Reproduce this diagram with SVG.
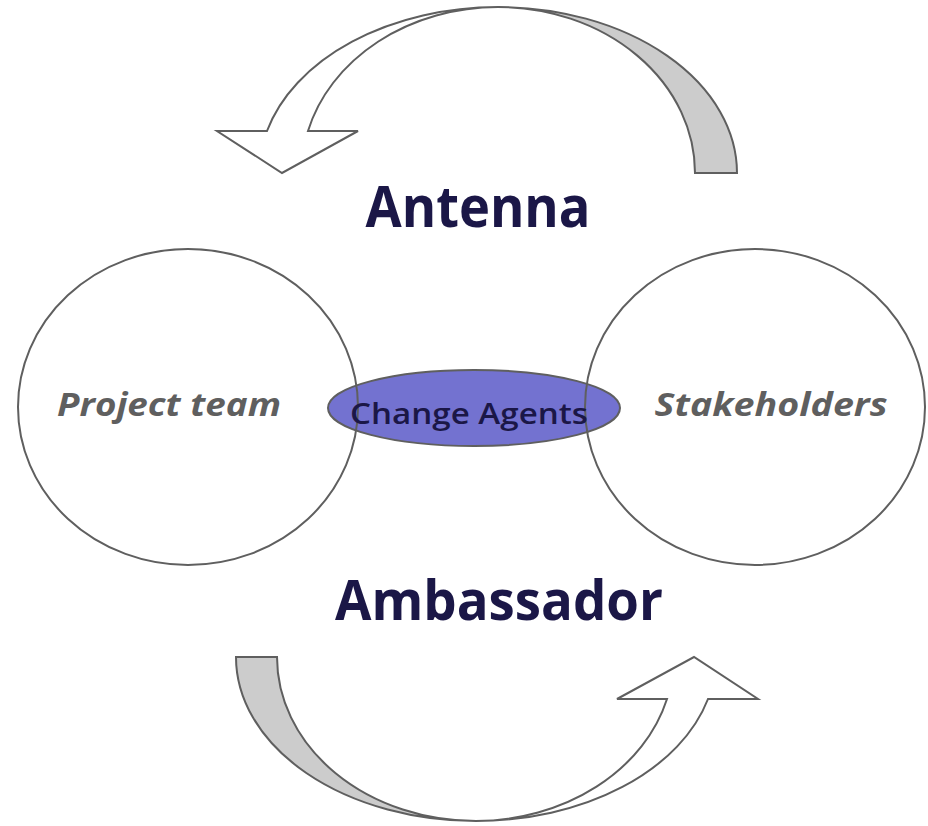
<svg xmlns="http://www.w3.org/2000/svg" width="928" height="826" viewBox="0 0 928 826">
  <style>
    .shape { stroke: #5f5f5f; stroke-width: 2; stroke-linejoin: miter; }
    .white { fill: #ffffff; }
    .band { fill: #cccccc; }
    .title { font-family: "Open Sans", "Noto Sans", sans-serif; font-weight: bold; fill: #1b1747; text-anchor: middle; }
    .label { font-family: "Open Sans", "Noto Sans", sans-serif; font-weight: bold; font-style: italic; fill: #5f5f5f; text-anchor: middle; font-size: 32px; }
    .agent { font-family: "Open Sans", "Noto Sans", sans-serif; font-weight: 600; fill: #1b1747; text-anchor: middle; font-size: 29px; }
  </style>
  <rect width="928" height="826" fill="#ffffff"/>
  <g id="connectors">
    <g id="arrow-top">
      <path class="shape band" d="M 498,7 A 239 166 0 0 1 737,173 L 695,173 A 197 166 0 0 0 498,7 Z"/>
      <path class="shape white" d="M 217,131 L 267,131 A 239 166 0 0 1 498,7 A 197 166 0 0 0 308,131 L 358,131 L 282,173 Z"/>
    </g>
    <g id="arrow-bottom">
      <path class="shape band" d="M 236,657 L 277,657 A 199 164 0 0 0 476,821 A 240 164 0 0 1 236,657 Z"/>
      <path class="shape white" d="M 476,821 A 240 164 0 0 0 708,699 L 758,699 L 694,657 L 617,699 L 667,699 A 199 164 0 0 1 476,821 Z"/>
    </g>
  </g>
  <g id="change-agents">
    <ellipse class="shape" cx="474" cy="408" rx="146" ry="38" fill="#7372d0"/>
  </g>
  <g id="project-team">
    <ellipse class="shape" cx="188" cy="407" rx="170" ry="158" fill="none"/>
    <text class="label" x="169" y="416" textLength="224" lengthAdjust="spacingAndGlyphs">Project team</text>
  </g>
  <g id="stakeholders">
    <ellipse class="shape" cx="755" cy="407" rx="170" ry="158" fill="none"/>
    <text class="label" x="771" y="416" textLength="233" lengthAdjust="spacingAndGlyphs">Stakeholders</text>
  </g>
  <text class="agent" x="469" y="424" textLength="238" lengthAdjust="spacingAndGlyphs">Change Agents</text>
  <g id="antenna">
    <text class="title" x="478" y="227" font-size="58" textLength="225" lengthAdjust="spacingAndGlyphs">Antenna</text>
  </g>
  <g id="ambassador">
    <text class="title" x="499" y="620" font-size="56" textLength="328" lengthAdjust="spacingAndGlyphs">Ambassador</text>
  </g>
</svg>
